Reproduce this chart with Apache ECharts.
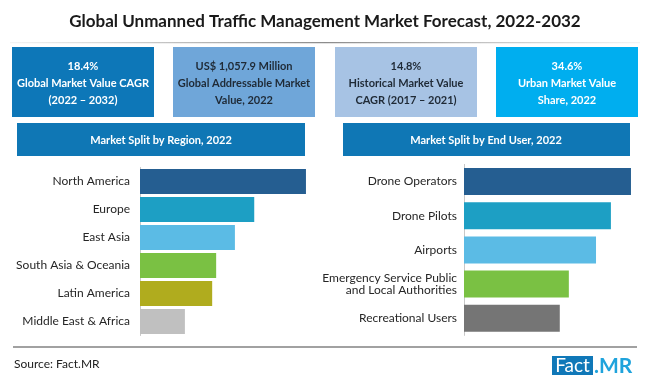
<!DOCTYPE html>
<html>
<head>
<meta charset="utf-8">
<script src="https://cdn.jsdelivr.net/npm/echarts@6/dist/echarts.min.js"></script>
<style>
html,body{margin:0;padding:0;background:#fff;}
#c{width:650px;height:385px;}
</style>
</head>
<body>
<div id="c"></div>
<script>
// ---- data ----
const regions = ['North America','Europe','East Asia','South Asia & Oceania','Latin America','Middle East & Africa'];
const regionShare = [29.2, 20.1, 16.7, 13.4, 12.7, 7.9];
const endUsers = ['Drone Operators','Drone Pilots','Airports','Emergency Service Public\nand Local Authorities','Recreational Users'];
const endUserShare = [25.8, 22.7, 20.4, 16.2, 14.8];
const kpiTexts = [
  '18.4%\nGlobal Market Value CAGR\n(2022 \u2013 2032)',
  'US$ 1,057.9 Million\nGlobal Addressable Market\nValue, 2022',
  '14.8%\nHistorical Market Value\nCAGR (2017 \u2013 2021)',
  '34.6%\nUrban Market Value\nShare, 2022'
];
const titleText = 'Global Unmanned Traffic Management Market Forecast, 2022-2032';
const leftBanner = 'Market Split by Region, 2022';
const rightBanner = 'Market Split by End User, 2022';
const sourceText = 'Source: Fact.MR';

// ---- styles ----
const regionColors = ['#255e91','#1d9fc4','#5bbbe5','#7ac143','#b0ac1e','#c0c0c0'];
const userColors = ['#255e91','#1d9fc4','#5bbbe5','#7ac143','#757575'];
const kpiBoxes = [
  {x:12, fill:'#0d77b8', text:'#ffffff'},
  {x:173, fill:'#6fa6d9', text:'#1f2a36'},
  {x:335, fill:'#a7c3e4', text:'#1f2a36'},
  {x:496, fill:'#00aeef', text:'#ffffff'}
];
const FONT = 'Lato, "Open Sans", sans-serif';

const chart = echarts.init(document.getElementById('c'), null, {renderer:'canvas'});

const graphics = [];
graphics.push({type:'text', left:'center', top:13, style:{text:titleText, font:'bold 17px '+FONT, fill:'#1a1a1a'}});
graphics.push({type:'rect', shape:{x:10,y:42,width:630,height:1.2}, style:{fill:new echarts.graphic.LinearGradient(0,0,1,0,[{offset:0,color:'rgba(150,150,150,0.1)'},{offset:0.5,color:'#8c8c8c'},{offset:1,color:'rgba(150,150,150,0.1)'}])}});
kpiBoxes.forEach((b,i)=>{
  graphics.push({type:'rect', shape:{x:b.x,y:47,width:142,height:70}, style:{fill:b.fill}});
  graphics.push({type:'text', x:b.x+71, y:83, style:{text:kpiTexts[i], font:'bold 11px '+FONT, fill:b.text, align:'center', verticalAlign:'middle', lineHeight:17}});
});
graphics.push({type:'rect', shape:{x:17,y:123,width:288,height:33}, style:{fill:'#0f77b5'}});
graphics.push({type:'text', x:161, y:140, style:{text:leftBanner, font:'bold 11px '+FONT, fill:'#fff', align:'center', verticalAlign:'middle'}});
graphics.push({type:'rect', shape:{x:343,y:123,width:287,height:33}, style:{fill:'#0f77b5'}});
graphics.push({type:'text', x:486, y:140, style:{text:rightBanner, font:'bold 11px '+FONT, fill:'#fff', align:'center', verticalAlign:'middle'}});
graphics.push({type:'rect', shape:{x:13,y:346.5,width:624,height:1}, style:{fill:'#444'}});
graphics.push({type:'text', x:14, y:364, style:{text:sourceText, font:'12px '+FONT, fill:'#222', verticalAlign:'middle'}});
graphics.push({type:'rect', shape:{x:552,y:356,width:41,height:19}, style:{fill:'#1078b8'}});
graphics.push({type:'text', x:572.5, y:366, style:{text:'Fact', font:'19px '+FONT, fill:'#fff', align:'center', verticalAlign:'middle'}});
graphics.push({type:'text', x:594, y:366, style:{text:'.MR', font:'bold 21px '+FONT, fill:'#1fa3dc', verticalAlign:'middle'}});

const catAxisCommon = {
  type:'category', inverse:true,
  axisTick:{show:false},
  axisLine:{show:true, lineStyle:{color:'#c8c8c8', width:1}},
  axisLabel:{color:'#262626', fontSize:12, fontFamily:FONT, lineHeight:12}
};

chart.setOption({
  animation:false,
  graphic:graphics,
  grid:[
    {left:140, top:167.5, width:170.5, height:168},
    {left:464, top:164.4, width:171.5, height:171}
  ],
  xAxis:[
    {type:'value', gridIndex:0, min:0, max:30, show:false},
    {type:'value', gridIndex:1, min:0, max:26.5, show:false}
  ],
  yAxis:[
    Object.assign({}, catAxisCommon, {gridIndex:0, data:regions, axisLabel:Object.assign({}, catAxisCommon.axisLabel, {margin:10})}),
    Object.assign({}, catAxisCommon, {gridIndex:1, data:endUsers, axisLabel:Object.assign({}, catAxisCommon.axisLabel, {margin:7})})
  ],
  series:[
    {type:'bar', xAxisIndex:0, yAxisIndex:0, barWidth:25, data:regionShare,
     itemStyle:{color:p=>regionColors[p.dataIndex]}},
    {type:'bar', xAxisIndex:1, yAxisIndex:1, barWidth:27, data:endUserShare,
     itemStyle:{color:p=>userColors[p.dataIndex]}}
  ]
});
</script>
</body>
</html>
